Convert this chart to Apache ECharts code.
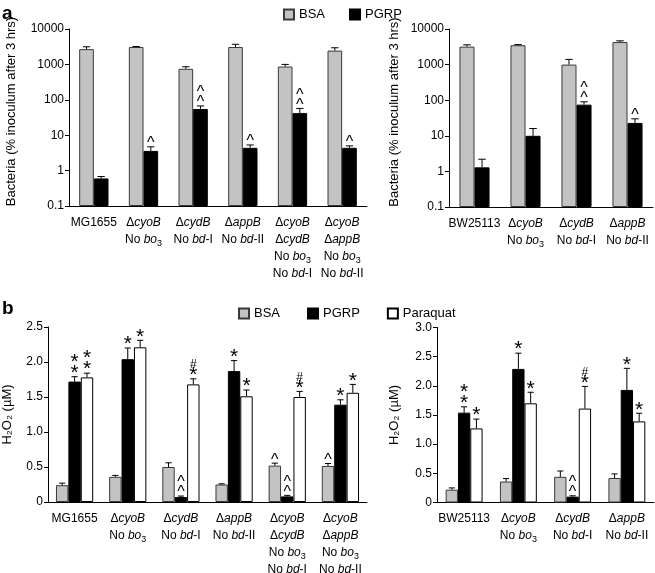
<!DOCTYPE html>
<html><head><meta charset="utf-8">
<script src="https://cdn.jsdelivr.net/npm/echarts@6/dist/echarts.min.js"></script>
<style>html,body{margin:0;padding:0;background:#fff}#c{width:655px;height:573px}</style>
</head><body><div id="c"></div>
<script>
// ---------- data ----------
const aLeftCategories = [
  'MG1655',
  'Δ{i|cyoB}\nNo {i|bo}{s|3}',
  'Δ{i|cydB}\nNo {i|bd}-I',
  'Δ{i|appB}\nNo {i|bd}-II',
  'Δ{i|cyoB}\nΔ{i|cydB}\nNo {i|bo}{s|3}\nNo {i|bd}-I',
  'Δ{i|cyoB}\nΔ{i|appB}\nNo {i|bo}{s|3}\nNo {i|bd}-II'
];
const aRightCategories = [
  'BW25113',
  'Δ{i|cyoB}\nNo {i|bo}{s|3}',
  'Δ{i|cydB}\nNo {i|bd}-I',
  'Δ{i|appB}\nNo {i|bd}-II'
];
const bLeftCategories = aLeftCategories;
const bRightCategories = aRightCategories;

const logTicks = ['0.1', '1', '10', '100', '1000', '10000'];

// panel a (log scale), left: MG1655 background
const aLeftBSA = [2700, 3100, 750, 3100, 870, 2450];
const aLeftBSAErr = [450, 100, 110, 600, 130, 500];
const aLeftPGRP = [0.6, 3.6, 55, 4.4, 42, 4.4];
const aLeftPGRPErr = [0.08, 1.1, 12, 0.9, 15, 0.6];
const aLeftPGRPMarks = ['', '^', '^^', '^', '^^', '^'];

// panel a, right: BW25113 background
const aRightBSA = [3200, 3500, 1000, 4300];
const aRightBSAErr = [400, 150, 400, 350];
const aRightPGRP = [1.3, 10, 75, 23];
const aRightPGRPErr = [0.9, 6, 15, 7];
const aRightPGRPMarks = ['', '', '^^', '^'];

// panel b (H2O2 uM), left
const bLeftBSA = [0.24, 0.36, 0.50, 0.25, 0.52, 0.515];
const bLeftBSAErr = [0.03, 0.02, 0.06, 0.01, 0.035, 0.035];
const bLeftBSAMarks = ['', '', '', '', '^', '^'];
const bLeftPGRP = [1.72, 2.04, 0.07, 1.87, 0.08, 1.39];
const bLeftPGRPErr = [0.07, 0.16, 0.015, 0.15, 0.015, 0.07];
const bLeftPGRPMarks = ['**', '*', '^^', '*', '^^', '*'];
const bLeftPQ = [1.78, 2.21, 1.68, 1.51, 1.50, 1.56];
const bLeftPQErr = [0.06, 0.10, 0.08, 0.09, 0.08, 0.12];
const bLeftPQMarks = ['**', '*', '#*', '*', '#*', '*'];

// panel b, right
const bRightBSA = [0.22, 0.36, 0.44, 0.42];
const bRightBSAErr = [0.03, 0.05, 0.10, 0.07];
const bRightPGRP = [1.54, 2.29, 0.10, 1.93];
const bRightPGRPErr = [0.10, 0.27, 0.015, 0.37];
const bRightPGRPMarks = ['**', '*', '^^', '*'];
const bRightPQ = [1.27, 1.70, 1.61, 1.39];
const bRightPQErr = [0.16, 0.19, 0.38, 0.14];
const bRightPQMarks = ['*', '*', '#*', '*'];

// ---------- styles ----------
const FONT = '"Liberation Sans", Arial, Helvetica, sans-serif';
const GRAY = '#c3c3c3';
const styles = {
  BSA: { color: GRAY, borderColor: '#3a3a3a', borderWidth: 1 },
  PGRP: { color: '#000', borderColor: '#000', borderWidth: 1 },
  Paraquat: { color: '#fff', borderColor: '#000', borderWidth: 1 }
};
const MARK_RICH = {
  c: { fontSize: 16, lineHeight: 10, fontFamily: FONT, color: '#000' },
  s: { fontSize: 21, lineHeight: 11, fontFamily: FONT, color: '#000' },
  h: { fontSize: 12, lineHeight: 10, fontFamily: FONT, color: '#000' }
};
function markText(m) {
  return m.split('').map(ch => '{' + (ch === '^' ? 'c' : ch === '*' ? 's' : 'h') + '|' + ch + '}').join('\n');
}

function barSeries(name, xi, vals, gap) {
  return {
    type: 'bar', name: name, xAxisIndex: xi, yAxisIndex: xi, data: vals,
    barGap: '0%', barCategoryGap: gap, itemStyle: styles[name], z: 2
  };
}
function errSeries(xi, vals, errs, marks, idx, n, gap) {
  return {
    type: 'custom', name: 'err' + xi + '_' + idx, xAxisIndex: xi, yAxisIndex: xi, z: 5, silent: true,
    data: vals.map((v, i) => [i, v, errs[i]]),
    renderItem: function (params, api) {
      const cat = api.value(0), v = api.value(1), e = api.value(2);
      const mark = marks ? marks[params.dataIndex] : '';
      const band = api.size([1, 1])[0];
      const gw = band * (1 - gap);
      const bw = gw / n;
      const base = api.coord([cat, v]);
      const top = api.coord([cat, v + e]);
      const x = base[0] - gw / 2 + bw * (idx + 0.5);
      const cap = bw * 0.25;
      const children = [
        { type: 'line', shape: { x1: x, y1: base[1], x2: x, y2: top[1] }, style: { stroke: '#000', lineWidth: 1 } },
        { type: 'line', shape: { x1: x - cap, y1: top[1], x2: x + cap, y2: top[1] }, style: { stroke: '#000', lineWidth: 1 } }
      ];
      if (mark) {
        children.push({
          type: 'text', x: x, y: top[1] + 2,
          style: { text: markText(mark), rich: MARK_RICH, align: 'center', verticalAlign: 'bottom', fill: '#000' }
        });
      }
      return { type: 'group', children: children };
    }
  };
}

const labelRich = {
  i: { fontStyle: 'italic', fontSize: 12, lineHeight: 17, fontFamily: FONT, color: '#000' },
  s: { fontSize: 9, lineHeight: 17, fontFamily: FONT, color: '#000', verticalAlign: 'bottom' }
};
function xAxisCfg(gi, cats) {
  return {
    type: 'category', gridIndex: gi, data: cats,
    axisLine: { lineStyle: { color: '#000', width: 1 } },
    axisTick: { length: 4, lineStyle: { color: '#000' } },
    axisLabel: { interval: 0, fontSize: 12, color: '#000', fontFamily: FONT, lineHeight: 17, margin: 8, rich: labelRich }
  };
}
const yCommon = {
  axisLine: { show: true, lineStyle: { color: '#000', width: 1 } },
  axisTick: { show: true, length: 4, lineStyle: { color: '#000' } },
  splitLine: { show: false },
  nameLocation: 'middle',
  axisLabel: { fontSize: 12, color: '#000', fontFamily: FONT, margin: 5 }
};
function logY(gi, gapName) {
  return Object.assign({}, yCommon, {
    type: 'log', logBase: 10, gridIndex: gi, min: 0.1, max: 10000, startValue: 0.1,
    name: 'Bacteria (% inoculum after 3 hrs)', nameGap: gapName,
    nameTextStyle: { fontSize: 13, color: '#000', fontFamily: FONT, padding: [0, 0, 0, 12] },
    axisLabel: Object.assign({}, yCommon.axisLabel, {
      formatter: v => logTicks[Math.round(Math.log10(v)) + 1]
    })
  });
}
function linY(gi, max, gapName) {
  return Object.assign({}, yCommon, {
    type: 'value', gridIndex: gi, min: 0, max: max, interval: 0.5,
    name: 'H₂O₂ (µM)', nameGap: gapName,
    nameTextStyle: { fontSize: 13, color: '#000', fontFamily: FONT },
    axisLabel: Object.assign({}, yCommon.axisLabel, {
      formatter: v => v === 0 ? '0' : v.toFixed(1)
    })
  });
}

const GA = 0.41, GB = 0.30;
const chart = echarts.init(document.getElementById('c'), null, { renderer: 'canvas' });
chart.setOption({
  animation: false,
  backgroundColor: '#fff',
  textStyle: { fontFamily: FONT },
  title: [
    { text: 'a', left: 2, top: 4, padding: 0, textStyle: { fontSize: 19, fontWeight: 'bold', color: '#000', fontFamily: FONT } },
    { text: 'b', left: 2, top: 299, padding: 0, textStyle: { fontSize: 19, fontWeight: 'bold', color: '#000', fontFamily: FONT } }
  ],
  legend: [
    { data: ['BSA', 'PGRP'], left: 278, top: 3, itemWidth: 10, itemHeight: 10, itemGap: 24, icon: 'rect',
      textStyle: { fontSize: 13, color: '#000', fontFamily: FONT }, selectedMode: false },
    { data: ['BSA', 'PGRP', 'Paraquat'], left: 233, top: 302, itemWidth: 10, itemHeight: 10, itemGap: 27, icon: 'rect',
      textStyle: { fontSize: 13, color: '#000', fontFamily: FONT }, selectedMode: false }
  ],
  grid: [
    { left: 69, top: 29, width: 298, height: 177, containLabel: false, outerBoundsMode: 'none' },
    { left: 449, top: 29, width: 204, height: 178, containLabel: false, outerBoundsMode: 'none' },
    { left: 48, top: 327, width: 319, height: 175, containLabel: false, outerBoundsMode: 'none' },
    { left: 437, top: 327.5, width: 217, height: 175, containLabel: false, outerBoundsMode: 'none' }
  ],
  xAxis: [
    xAxisCfg(0, aLeftCategories), xAxisCfg(1, aRightCategories),
    xAxisCfg(2, bLeftCategories), xAxisCfg(3, bRightCategories)
  ],
  yAxis: [logY(0, 51), logY(1, 48), linY(2, 2.5, 34), linY(3, 3.0, 36)],
  series: [
    barSeries('BSA', 0, aLeftBSA, '41%'), barSeries('PGRP', 0, aLeftPGRP, '41%'),
    errSeries(0, aLeftBSA, aLeftBSAErr, null, 0, 2, GA), errSeries(0, aLeftPGRP, aLeftPGRPErr, aLeftPGRPMarks, 1, 2, GA),
    barSeries('BSA', 1, aRightBSA, '41%'), barSeries('PGRP', 1, aRightPGRP, '41%'),
    errSeries(1, aRightBSA, aRightBSAErr, null, 0, 2, GA), errSeries(1, aRightPGRP, aRightPGRPErr, aRightPGRPMarks, 1, 2, GA),
    barSeries('BSA', 2, bLeftBSA, '30%'), barSeries('PGRP', 2, bLeftPGRP, '30%'), barSeries('Paraquat', 2, bLeftPQ, '30%'),
    errSeries(2, bLeftBSA, bLeftBSAErr, bLeftBSAMarks, 0, 3, GB), errSeries(2, bLeftPGRP, bLeftPGRPErr, bLeftPGRPMarks, 1, 3, GB),
    errSeries(2, bLeftPQ, bLeftPQErr, bLeftPQMarks, 2, 3, GB),
    barSeries('BSA', 3, bRightBSA, '32%'), barSeries('PGRP', 3, bRightPGRP, '32%'), barSeries('Paraquat', 3, bRightPQ, '32%'),
    errSeries(3, bRightBSA, bRightBSAErr, null, 0, 3, 0.32), errSeries(3, bRightPGRP, bRightPGRPErr, bRightPGRPMarks, 1, 3, 0.32),
    errSeries(3, bRightPQ, bRightPQErr, bRightPQMarks, 2, 3, 0.32)
  ]
});
</script>
</body></html>
